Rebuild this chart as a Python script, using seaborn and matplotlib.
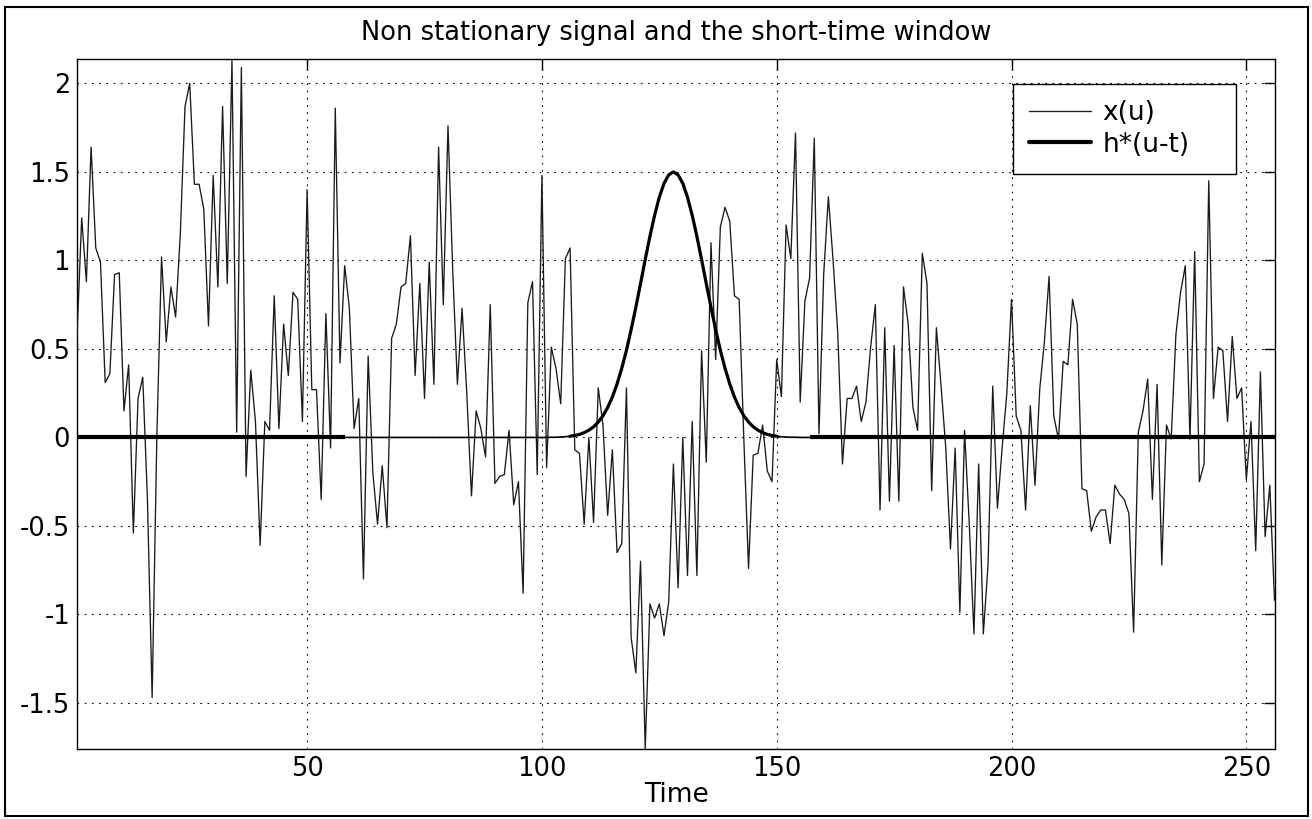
import numpy as np
import pandas as pd
import matplotlib
matplotlib.use("Agg")
import matplotlib.pyplot as plt
from matplotlib.patches import Rectangle
from matplotlib.lines import Line2D
import seaborn as sns

# ---------------- data ----------------
time = list(range(1, 257))

signal = [
    0.57, 1.24, 0.88, 1.64, 1.07, 0.99, 0.31, 0.36, 0.92, 0.93,
    0.15, 0.41, -0.54, 0.22, 0.34, -0.35, -1.47, 0.00, 1.02, 0.54,
    0.85, 0.68, 1.15, 1.87, 2.00, 1.43, 1.43, 1.29, 0.63, 1.48,
    0.85, 1.87, 0.87, 2.13, 0.03, 2.09, -0.22, 0.38, 0.09, -0.61,
    0.09, 0.04, 0.80, 0.05, 0.64, 0.35, 0.82, 0.78, 0.09, 1.40,
    0.27, 0.27, -0.35, 0.70, -0.06, 1.86, 0.42, 0.97, 0.73, 0.05,
    0.22, -0.80, 0.46, -0.20, -0.49, -0.16, -0.51, 0.56, 0.64, 0.85,
    0.87, 1.14, 0.35, 0.87, 0.22, 0.99, 0.30, 1.64, 0.75, 1.76,
    0.95, 0.30, 0.73, 0.25, -0.33, 0.15, 0.05, -0.11, 0.75, -0.26,
    -0.22, -0.21, 0.04, -0.38, -0.25, -0.88, 0.76, 0.88, -0.21, 1.48,
    -0.17, 0.51, 0.39, 0.19, 1.01, 1.07, -0.07, -0.09, -0.49, 0.00,
    -0.48, 0.28, 0.07, -0.44, -0.07, -0.65, -0.60, 0.28, -1.13, -1.33,
    -0.70, -1.76, -0.94, -1.02, -0.94, -1.12, -0.93, -0.15, -0.85, 0.00,
    -0.78, 0.09, -0.78, 0.49, -0.14, 1.10, 0.44, 1.19, 1.30, 1.22,
    0.80, 0.78, -0.01, -0.74, -0.10, -0.09, 0.07, -0.19, -0.25, 0.44,
    0.23, 1.20, 1.01, 1.72, 0.20, 0.77, 0.90, 1.69, 0.02, 0.92,
    1.36, 1.00, 0.59, -0.15, 0.22, 0.22, 0.29, 0.09, 0.20, 0.51,
    0.75, -0.41, 0.62, -0.36, 0.52, -0.36, 0.85, 0.64, 0.17, 0.04,
    1.04, 0.87, -0.30, 0.62, 0.29, -0.06, -0.63, -0.06, -0.99, 0.04,
    -0.49, -1.11, -0.15, -1.11, -0.72, 0.29, -0.40, -0.06, 0.25, 0.78,
    0.12, 0.04, -0.41, 0.18, -0.27, 0.27, 0.54, 0.91, 0.12, -0.01,
    0.43, 0.41, 0.78, 0.64, -0.29, -0.30, -0.53, -0.45, -0.41, -0.41,
    -0.60, -0.27, -0.32, -0.35, -0.43, -1.10, 0.03, 0.15, 0.33, -0.35,
    0.30, -0.72, 0.07, -0.01, 0.58, 0.82, 0.97, -0.01, 1.05, -0.25,
    -0.15, 1.45, 0.22, 0.51, 0.49, 0.09, 0.57, 0.22, 0.28, -0.24,
    0.09, -0.64, 0.37, -0.56, -0.27, -0.92,
]

# short-time window h*(u-t) centred at t = 128 (values for u = 100..156)
window_bump = [
    0.000, 0.000, 0.001, 0.001, 0.002, 0.004, 0.007, 0.011, 0.017, 0.027,
    0.041, 0.060, 0.087, 0.122, 0.169, 0.228, 0.302, 0.390, 0.492, 0.609,
    0.735, 0.869, 1.005, 1.136, 1.255, 1.357, 1.435, 1.483, 1.500, 1.483,
    1.435, 1.357, 1.255, 1.136, 1.005, 0.869, 0.735, 0.609, 0.492, 0.390,
    0.302, 0.228, 0.169, 0.122, 0.087, 0.060, 0.041, 0.027, 0.017, 0.011,
    0.007, 0.004, 0.002, 0.001, 0.001, 0.000, 0.000,
]
window = [0.0] * 99 + window_bump + [0.0] * 100

xticks = [50, 100, 150, 200, 250]
xtick_labels = ["50", "100", "150", "200", "250"]
yticks = [-1.5, -1, -0.5, 0, 0.5, 1, 1.5, 2]
ytick_labels = ["-1.5", "-1", "-0.5", "0", "0.5", "1", "1.5", "2"]

title = "Non stationary signal and the short-time window"
xlabel = "Time"
legend_labels = ["x(u)", "h*(u-t)"]

df = pd.DataFrame({"u": time, "x": signal, "h": window})

# ---------------- style ----------------
sns.set_style("white")
plt.rcParams["font.family"] = ["DejaVu Sans"]
plt.rcParams["axes.unicode_minus"] = False
plt.rcParams["text.color"] = "black"

W, H = 1312, 819
fig = plt.figure(figsize=(W / 100, H / 100), dpi=100)
ax_l, ax_r, ax_t, ax_b = 77, 1274.5, 59.3, 749
ax = fig.add_axes([ax_l / W, 1 - ax_b / H, (ax_r - ax_l) / W, (ax_b - ax_t) / H])

# signal
sns.lineplot(data=df, x="u", y="x", ax=ax, color="#1a1a1a", linewidth=0.95,
             sort=False, estimator=None, zorder=3)

# window: thick outside the window support, thinner flat part, medium bump
left = df[df["u"] <= 58]
right = df[df["u"] >= 157]
mid = df[(df["u"] >= 58) & (df["u"] <= 157)]
bump = df[(df["u"] >= 106) & (df["u"] <= 150)]
sns.lineplot(data=left, x="u", y="h", ax=ax, color="black", linewidth=3.0,
             sort=False, estimator=None, zorder=4, solid_capstyle="butt")
sns.lineplot(data=right, x="u", y="h", ax=ax, color="black", linewidth=3.0,
             sort=False, estimator=None, zorder=4, solid_capstyle="butt")
sns.lineplot(data=mid, x="u", y="h", ax=ax, color="black", linewidth=1.2,
             sort=False, estimator=None, zorder=4)
sns.lineplot(data=bump, x="u", y="h", ax=ax, color="black", linewidth=2.3,
             sort=False, estimator=None, zorder=4)

ax.set_xlim(1, 256)
ax.set_ylim(-1.76, 2.136)
ax.set_xticks(xticks)
ax.set_xticklabels(xtick_labels)
ax.set_yticks(yticks)
ax.set_yticklabels(ytick_labels)
ax.set_xlabel("")
ax.set_ylabel("")

ax.grid(True, color="black", linestyle=(0, (1.5, 5)), linewidth=0.8)
ax.tick_params(direction="in", length=8, width=1, top=True, right=True,
               labelsize=18.5, pad=5, colors="black")
for s in ax.spines.values():
    s.set_color("black")
    s.set_linewidth(1.0)
    s.set_visible(True)

# legend
handles = [Line2D([], [], color="#1a1a1a", linewidth=0.95),
           Line2D([], [], color="black", linewidth=3.0)]
leg = ax.legend(handles, legend_labels, loc="upper left", mode="expand",
                bbox_to_anchor=(1013 / W, 1 - 172 / H, 223 / W, 88 / H),
                bbox_transform=fig.transFigure,
                frameon=True, fancybox=False, edgecolor="black", framealpha=1,
                fontsize=19, handlelength=2.35, handletextpad=0.42,
                borderpad=0.62, labelspacing=0.2, borderaxespad=0)
leg.get_frame().set_linewidth(1.0)
for t in leg.get_texts():
    t.set_color("black")

fig.text(675.7 / W, 1 - 33 / H, title, ha="center", va="center",
         fontsize=18.5, color="black")
fig.text(676 / W, 1 - 795 / H, xlabel, ha="center", va="center",
         fontsize=19, color="black")

fig.patches.append(Rectangle((5 / W, 1 - 816 / H), (1308 - 5) / W, (816 - 7) / H,
                             transform=fig.transFigure, fill=False,
                             edgecolor="black", linewidth=1.5))

fig.savefig("out.png", dpi=100)
